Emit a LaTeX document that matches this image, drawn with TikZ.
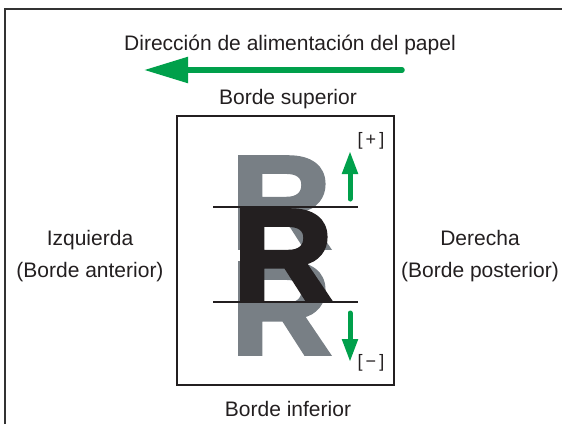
\documentclass[tikz,border=0pt]{standalone}
\usepackage{graphicx}
\usepackage{fontspec}
\setmainfont{Liberation Sans}
\newfontfamily\heavyFont{Liberation Sans Bold}[FakeBold=3]
\usetikzlibrary{arrows.meta}

\definecolor{feedGreen}{rgb}{0.0,0.627,0.294}
\definecolor{letterGray}{rgb}{0.471,0.498,0.522}
\definecolor{inkBlack}{rgb}{0.137,0.122,0.125}

\begin{document}
\begin{tikzpicture}[
        x=1pt, y=-1pt,
        every node/.style={inner sep=0pt, text=inkBlack},
        labelText/.style={anchor=base, font=\fontsize{21}{25}\selectfont},
        signText/.style={anchor=base, font=\fontsize{18}{20}\selectfont},
        frameLine/.style={draw=black!80, line width=2.8pt},
        boxLine/.style={draw=inkBlack, line width=2.4pt},
        markLine/.style={inkBlack, line width=2.6pt},
        feedArrow/.style={-{Triangle[length=44pt,width=25pt]}, feedGreen, line width=5.5pt, line cap=round},
        shiftArrow/.style={-{Triangle[length=23pt,width=15pt]}, feedGreen, line width=5pt, line cap=round},
        bigLetter/.style={anchor=base, font=\fontsize{132}{132}\heavyFont}
    ]
        \useasboundingbox (0,0) rectangle (562,424);

        % Outer frame, open to the right and below
        \draw[frameLine] (5,424) -- (5,9) -- (562,9);

        % Feed direction
        \node[labelText] (feedLabel) at (290,50) {Dirección de alimentación del papel};
        \coordinate (feedStart) at (402,70);
        \coordinate (feedEnd) at (144,70);
        \draw[feedArrow] (feedStart) -- (feedEnd);

        % Sheet and its edges
        \draw[boxLine] (177,116) rectangle (394,385);
        \node[labelText] (topEdge) at (288,104) {Borde superior};
        \node[labelText] (bottomEdge) at (288,416) {Borde inferior};
        \node[labelText] (leftName) at (90,245) {Izquierda};
        \node[labelText] (leftEdge) at (90,277) {(Borde anterior)};
        \node[labelText] (rightName) at (480,245) {Derecha};
        \node[labelText] (rightEdge) at (480,277) {(Borde posterior)};

        % Shifted images in gray, nominal image in black
        \node[bigLetter, text=letterGray] (grayUp) at (281,248) {\scalebox{1.05}[1]{R}};
        \node[bigLetter, text=letterGray] (grayDown) at (281,354) {\scalebox{1.05}[1]{R}};
        \node[bigLetter] (blackMid) at (283,301) {\scalebox{1.05}[1]{R}};

        % Reference lines
        \draw[markLine] (213,207) -- (358,207);
        \draw[markLine] (213,302) -- (358,302);

        % Plus and minus shift
        \coordinate (upStart) at (350,199);
        \coordinate (upEnd) at (350,151);
        \draw[shiftArrow] (upStart) -- (upEnd);
        \node[signText] (plusSign) at (371,145.5) {[\,+\,]};

        \coordinate (downStart) at (350,313);
        \coordinate (downEnd) at (350,362);
        \draw[shiftArrow] (downStart) -- (downEnd);
        \node[signText] (minusSign) at (371,367.5) {[\,−\,]};

    \end{tikzpicture}
\end{document}
